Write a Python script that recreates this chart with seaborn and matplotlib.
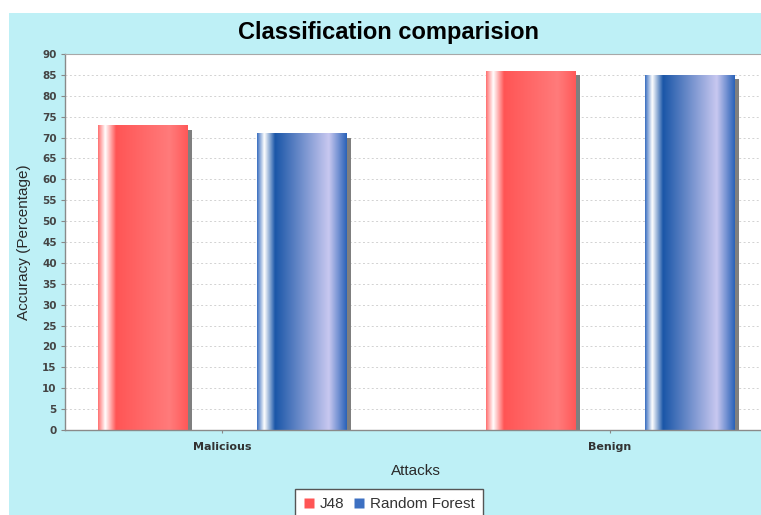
import numpy as np
import pandas as pd
import matplotlib
matplotlib.use("Agg")
import matplotlib.pyplot as plt
import matplotlib.patches as mpatches
from matplotlib.colors import to_rgb
from matplotlib.lines import Line2D
from matplotlib.transforms import ScaledTranslation
import seaborn as sns

# ---- data -----------------------------------------------------------------
categories = ["Malicious", "Benign"]
classifiers = ["J48", "Random Forest"]
j48_accuracy = [73, 86]
random_forest_accuracy = [71, 85]
y_ticks = list(range(0, 95, 5))

# ---- styling ----------------------------------------------------------------
base_colors = {"J48": "#FF5555", "Random Forest": "#1C5AAB"}
legend_colors = {"J48": "#FF5555", "Random Forest": "#3D70C2"}
# horizontal colour stops across each bar: (fraction of width, colour)
gradient_stops = {
    "J48": [(0.0, "#FF7070"), (0.08, "#FFFFFF"), (0.2, "#FF5555"),
            (0.8, "#FF7B7B"), (1.0, "#FF5858")],
    "Random Forest": [(0.0, "#3A6FC0"), (0.08, "#FFFFFF"), (0.2, "#1A56A8"),
                      (0.8, "#C8C8F0"), (1.0, "#2A62B8")],
}
panel_color = "#BEF0F6"

df = pd.DataFrame({
    "Attacks": categories * 2,
    "Classifier": [classifiers[0]] * len(categories) + [classifiers[1]] * len(categories),
    "Accuracy": j48_accuracy + random_forest_accuracy,
})

sns.set_theme(style="white")
plt.rcParams["font.family"] = ["Liberation Sans", "DejaVu Sans"]

W, H = 761, 515
fig = plt.figure(figsize=(W / 100, H / 100), dpi=100, facecolor="white")
fig.add_artist(mpatches.Rectangle((9 / W, 0), 1, (H - 13) / H, transform=fig.transFigure,
                                  facecolor=panel_color, edgecolor="none", zorder=-10))

# plot area in pixels
px_left, px_right, px_top, px_bottom = 65, 766, 54, 430
ax = fig.add_axes([px_left / W, 1 - px_bottom / H,
                   (px_right - px_left) / W, (px_bottom - px_top) / H])
ax.set_facecolor("white")

sns.barplot(data=df, x="Attacks", y="Accuracy", hue="Classifier",
            order=categories, hue_order=classifiers, palette=base_colors,
            width=0.82, gap=0.44, linewidth=0, saturation=1,
            errorbar=None, legend=False, ax=ax)


def gradient_row(stops, n=256):
    pos = [p for p, _ in stops]
    cols = np.array([to_rgb(c) for _, c in stops])
    xs = np.linspace(0, 1, n)
    return np.stack([np.interp(xs, pos, cols[:, k]) for k in range(3)], axis=-1)[None, :, :]


shadow_shift = ax.transData + ScaledTranslation(0.045, -0.045, fig.dpi_scale_trans)
for bar in list(ax.patches):
    fc = np.array(bar.get_facecolor()[:3])
    name = min(base_colors, key=lambda k: np.sum((np.array(to_rgb(base_colors[k])) - fc) ** 2))
    x0, y0 = bar.get_x(), bar.get_y()
    w, h = bar.get_width(), bar.get_height()
    shadow = mpatches.Rectangle((x0, y0), w, h, transform=shadow_shift,
                                facecolor="#7F7F7F", edgecolor="none", zorder=1.8)
    ax.add_patch(shadow)
    bar.set_zorder(2)
    img = ax.imshow(gradient_row(gradient_stops[name]), extent=(x0, x0 + w, y0, y0 + h),
                    aspect="auto", interpolation="bilinear", zorder=2.2)
    img.set_clip_path(bar)

ax.set_ylim(0, 90)
ax.set_xlim(-(222 - 65) / 388, 1 + (766 - 610) / 388)
ax.set_yticks(y_ticks)

ax.yaxis.grid(True, color="#D2D2D2", linestyle=(0, (2, 2.5)), linewidth=0.7)
ax.xaxis.grid(False)
ax.set_axisbelow(True)

for side in ("left", "bottom"):
    ax.spines[side].set_color("#8A8A8A")
    ax.spines[side].set_linewidth(1.0)
ax.spines["top"].set_color("#A8A8A8")
ax.spines["top"].set_linewidth(0.8)
ax.spines["right"].set_visible(False)

ax.tick_params(axis="y", left=True, length=3, width=0.8, color="#888888", pad=3,
               labelsize=7.5, labelcolor="#444444")
ax.tick_params(axis="x", bottom=True, length=2, width=0.8, color="#888888", pad=7,
               labelsize=8, labelcolor="#333333")
for lbl in ax.get_yticklabels() + ax.get_xticklabels():
    lbl.set_fontfamily("DejaVu Sans")
    lbl.set_fontweight("bold")

ax.set_xlabel("Attacks", fontsize=11, color="#2A2A2A")
ax.xaxis.set_label_coords(0.5, -(471 - 430) / (px_bottom - px_top))
ax.xaxis.label.set_va("center")
ax.set_ylabel("Accuracy (Percentage)", fontsize=11, color="#2A2A2A")
ax.yaxis.set_label_coords(-(65 - 24) / (px_right - px_left), 0.5)
ax.yaxis.label.set_va("center")

fig.text(389 / W, 1 - 33 / H, "Classification comparision", ha="center", va="center",
         fontsize=17, fontweight="bold", color="black")

handles = [Line2D([], [], marker="s", linestyle="none", markersize=6.5,
                  markerfacecolor=legend_colors[c], markeredgecolor="none")
           for c in classifiers]
leg = fig.legend(handles, classifiers, loc="upper center",
                 bbox_to_anchor=(389 / W, 1 - 489 / H), ncol=2, frameon=True,
                 fancybox=False, edgecolor="#555555", facecolor="white", framealpha=1,
                 fontsize=11, handlelength=0.7, handletextpad=0.35, columnspacing=0.6,
                 borderpad=0.55, borderaxespad=0)
leg.get_frame().set_linewidth(1.0)
for t in leg.get_texts():
    t.set_color("#333333")

fig.savefig("out.png", dpi=100)
